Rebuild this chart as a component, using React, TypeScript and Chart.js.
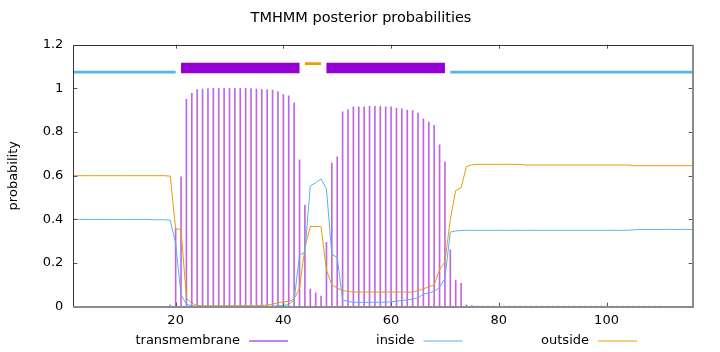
import React, { useEffect, useRef } from 'react';
import { Chart, registerables } from 'chart.js';

Chart.register(...registerables);

// ---- data -------------------------------------------------------------
const seqLength = 116;
const positions: number[] = Array.from({ length: seqLength }, (_, i) => i + 1);

const transmembrane: number[] = [
  0, 0, 0, 0, 0, 0, 0, 0, 0, 0,
  0, 0, 0.002, 0.002, 0.002, 0.002, 0.002, 0.002, 0.008, 0.36,
  0.595, 0.95, 0.977, 0.994, 0.997, 0.999, 1, 1, 1, 1,
  1, 1, 1, 0.999, 0.997, 0.995, 0.994, 0.992, 0.985, 0.971,
  0.966, 0.934, 0.673, 0.466, 0.081, 0.064, 0.049, 0.295, 0.658, 0.687,
  0.892, 0.903, 0.915, 0.916, 0.916, 0.918, 0.918, 0.918, 0.916, 0.915,
  0.91, 0.906, 0.901, 0.898, 0.887, 0.86, 0.846, 0.831, 0.741, 0.664,
  0.26, 0.122, 0.107, 0.008, 0.005, 0.003, 0.003, 0.003, 0.003, 0.003,
  0.003, 0.003, 0.003, 0.003, 0.003, 0.003, 0.003, 0.003, 0.003, 0.003,
  0.003, 0.003, 0.003, 0.003, 0.003, 0.003, 0.003, 0.003, 0.003, 0.003,
  0.003, 0.003, 0.003, 0.003, 0.003, 0.003, 0.003, 0.003, 0.003, 0.003,
  0.002, 0.002, 0, 0, 0, 0,
];

const inside: number[] = [
  0.4, 0.4, 0.4, 0.4, 0.4, 0.4, 0.4, 0.4, 0.4, 0.4,
  0.4, 0.4, 0.4, 0.4, 0.4, 0.398, 0.398, 0.398, 0.396, 0.29,
  0.054, 0.012, 0.004, 0.002, 0.002, 0.002, 0.002, 0.002, 0.002, 0.002,
  0.002, 0.002, 0.002, 0.002, 0.002, 0.002, 0.002, 0.002, 0.004, 0.005,
  0.01, 0.03, 0.236, 0.25, 0.553, 0.568, 0.585, 0.54, 0.24, 0.226,
  0.031, 0.024, 0.02, 0.02, 0.02, 0.02, 0.02, 0.02, 0.021, 0.022,
  0.025, 0.028, 0.031, 0.035, 0.04, 0.058, 0.063, 0.07, 0.088, 0.13,
  0.342, 0.347, 0.349, 0.35, 0.35, 0.35, 0.35, 0.35, 0.35, 0.35,
  0.35, 0.35, 0.35, 0.35, 0.35, 0.35, 0.35, 0.35, 0.35, 0.35,
  0.35, 0.35, 0.35, 0.35, 0.35, 0.35, 0.35, 0.35, 0.35, 0.35,
  0.35, 0.35, 0.35, 0.35, 0.352, 0.354, 0.354, 0.354, 0.354, 0.354,
  0.354, 0.354, 0.354, 0.354, 0.354, 0.354,
];

const outside: number[] = [
  0.6, 0.6, 0.6, 0.6, 0.6, 0.6, 0.6, 0.6, 0.6, 0.6,
  0.6, 0.6, 0.6, 0.6, 0.6, 0.6, 0.6, 0.6, 0.598, 0.356,
  0.354, 0.04, 0.016, 0.006, 0.004, 0.004, 0.004, 0.004, 0.004, 0.004,
  0.004, 0.004, 0.004, 0.004, 0.004, 0.006, 0.008, 0.012, 0.018, 0.022,
  0.025, 0.035, 0.085, 0.27, 0.367, 0.368, 0.367, 0.168, 0.1, 0.085,
  0.074, 0.07, 0.067, 0.067, 0.067, 0.067, 0.067, 0.067, 0.067, 0.067,
  0.067, 0.067, 0.067, 0.067, 0.073, 0.082, 0.091, 0.099, 0.17, 0.206,
  0.4, 0.532, 0.545, 0.642, 0.65, 0.652, 0.652, 0.652, 0.652, 0.652,
  0.652, 0.652, 0.652, 0.652, 0.649, 0.649, 0.649, 0.649, 0.649, 0.649,
  0.649, 0.649, 0.649, 0.649, 0.649, 0.649, 0.649, 0.649, 0.649, 0.649,
  0.649, 0.649, 0.649, 0.649, 0.646, 0.646, 0.646, 0.646, 0.646, 0.646,
  0.646, 0.646, 0.646, 0.646, 0.646, 0.646,
];

// predicted topology (top bar)
const topologyKinds: string[] = ['inside', 'TMhelix', 'outside', 'TMhelix', 'inside'];
const topologyStart: number[] = [1, 21, 44, 48, 71];
const topologyEnd: number[] = [20, 43, 47, 70, 116];
const topologyLevel: Record<string, number> = { inside: 1.074, TMhelix: 1.093, outside: 1.113 };

const xTicks: number[] = [20, 40, 60, 80, 100];
const yTicks: number[] = [0, 0.2, 0.4, 0.6, 0.8, 1, 1.2];
const yTickLabels: string[] = ['0', '0.2', '0.4', '0.6', '0.8', '1', '1.2'];

const legendLabels: string[] = ['transmembrane', 'inside', 'outside'];
const titleText = 'TMHMM posterior probabilities';
const yAxisTitle = 'probability';

// ---- styles -----------------------------------------------------------
const FONT = '"DejaVu Sans", "Liberation Sans", sans-serif';
const C_TM = '#9400d3';
const C_IN = '#56b4e9';
const C_OUT = '#e69f00';
const kindColor: Record<string, string> = { inside: C_IN, TMhelix: C_TM, outside: C_OUT };
const kindWidth: Record<string, number> = { inside: 2.8, TMhelix: 10.6, outside: 2.7 };
const legendColors = [C_TM, C_IN, C_OUT];

const framePlugin = {
  id: 'gnuplotFrame',
  afterDraw(chart: any) {
    const { ctx, chartArea: a, scales } = chart;
    const xs = scales.x;
    const ys = scales.y;
    ctx.save();
    // inward tic marks on all four sides
    ctx.strokeStyle = '#555';
    ctx.lineWidth = 1;
    ctx.beginPath();
    for (const v of yTicks) {
      const py = Math.round(ys.getPixelForValue(v)) + 0.5;
      ctx.moveTo(a.left, py);
      ctx.lineTo(a.left + 4, py);
      ctx.moveTo(a.right, py);
      ctx.lineTo(a.right - 4, py);
    }
    for (const v of xTicks) {
      const px = Math.round(xs.getPixelForValue(v)) + 0.5;
      ctx.moveTo(px, a.bottom);
      ctx.lineTo(px, a.bottom - 4);
      ctx.moveTo(px, a.top);
      ctx.lineTo(px, a.top + 4);
    }
    ctx.stroke();
    // border: left & top dark, bottom & right grey
    ctx.strokeStyle = '#333';
    ctx.lineWidth = 1;
    ctx.beginPath();
    ctx.moveTo(Math.round(a.left) + 0.5, a.bottom);
    ctx.lineTo(Math.round(a.left) + 0.5, Math.round(a.top) + 0.5);
    ctx.lineTo(a.right, Math.round(a.top) + 0.5);
    ctx.stroke();
    ctx.strokeStyle = '#8c8c8c';
    ctx.lineWidth = 2;
    ctx.beginPath();
    ctx.moveTo(a.left, Math.round(a.bottom));
    ctx.lineTo(Math.round(a.right), Math.round(a.bottom));
    ctx.lineTo(Math.round(a.right), a.top);
    ctx.stroke();

    // title
    ctx.fillStyle = '#000';
    ctx.font = `14.5px ${FONT}`;
    ctx.textAlign = 'center';
    ctx.textBaseline = 'middle';
    ctx.fillText(titleText, 361, 18);

    ctx.font = `13px ${FONT}`;
    // y axis title
    ctx.save();
    ctx.translate(14, (a.top + a.bottom) / 2);
    ctx.rotate(-Math.PI / 2);
    ctx.fillText(yAxisTitle, 0, 0);
    ctx.restore();

    // legend (gnuplot style: text then sample)
    const textRight = [240, 414.5, 589];
    const ly = 341;
    ctx.textAlign = 'right';
    legendLabels.forEach((lab, i) => {
      ctx.fillStyle = '#000';
      ctx.fillText(lab, textRight[i], ly);
      ctx.strokeStyle = legendColors[i];
      ctx.lineWidth = 1;
      ctx.beginPath();
      ctx.moveTo(textRight[i] + 9, ly);
      ctx.lineTo(textRight[i] + 48, ly);
      ctx.stroke();
    });
    ctx.restore();
  },
};

export default function App() {
  const canvasRef = useRef<HTMLCanvasElement | null>(null);

  useEffect(() => {
    document.body.style.margin = '0';
    const canvas = canvasRef.current;
    if (!canvas) return;

    const topoDatasets = topologyKinds.map((kind, i) => ({
      type: 'line' as const,
      data: [
        { x: topologyStart[i], y: topologyLevel[kind] },
        { x: topologyEnd[i], y: topologyLevel[kind] },
      ],
      borderColor: kindColor[kind],
      borderWidth: kindWidth[kind],
      borderCapStyle: 'butt' as const,
      pointRadius: 0,
      order: 1,
    }));

    const chart = new Chart(canvas, {
      type: 'bar',
      data: {
        datasets: [
          {
            type: 'line',
            label: 'inside',
            data: positions.map((p, i) => ({ x: p, y: inside[i] })),
            borderColor: C_IN,
            borderWidth: 1,
            pointRadius: 0,
            tension: 0,
            order: 0,
          },
          {
            type: 'line',
            label: 'outside',
            data: positions.map((p, i) => ({ x: p, y: outside[i] })),
            borderColor: C_OUT,
            borderWidth: 1,
            pointRadius: 0,
            tension: 0,
            order: 0,
          },
          ...topoDatasets,
          {
            type: 'bar',
            label: 'transmembrane',
            data: positions.map((p, i) => ({ x: p, y: transmembrane[i] })),
            backgroundColor: 'rgba(148,0,211,0.6)',
            borderWidth: 0,
            barThickness: 1,
            order: 5,
          },
        ] as any,
      },
      options: {
        animation: false,
        responsive: false,
        maintainAspectRatio: false,
        layout: { padding: { left: 0, right: 27.3, top: 44.7, bottom: 0 } },
        plugins: {
          legend: { display: false },
          title: { display: false },
          tooltip: { enabled: false },
        },
        scales: {
          x: {
            type: 'linear',
            offset: false,
            min: 1,
            max: seqLength,
            afterBuildTicks: (s: any) => {
              s.ticks = xTicks.map((v) => ({ value: v }));
            },
            afterFit: (s: any) => {
              s.height = 45.3;
            },
            grid: { display: false, drawTicks: false, offset: false },
            border: { display: false },
            ticks: {
              padding: 6,
              color: '#000',
              font: { family: FONT, size: 13 },
              maxRotation: 0,
              autoSkip: false,
              callback: (v: any) => String(v),
            },
          },
          y: {
            type: 'linear',
            min: 0,
            max: 1.2,
            afterBuildTicks: (s: any) => {
              s.ticks = yTicks.map((v) => ({ value: v }));
            },
            afterFit: (s: any) => {
              s.width = 73.3;
            },
            grid: { display: false, drawTicks: false },
            border: { display: false },
            ticks: {
              padding: 10,
              color: '#000',
              font: { family: FONT, size: 13 },
              callback: (_v: any, idx: number) => yTickLabels[idx],
            },
          },
        },
      } as any,
      plugins: [framePlugin],
    });

    return () => chart.destroy();
  }, []);

  return (
    <div style={{ width: 720, height: 352 }}>
      <canvas ref={canvasRef} width={720} height={352} style={{ display: 'block' }} />
    </div>
  );
}
